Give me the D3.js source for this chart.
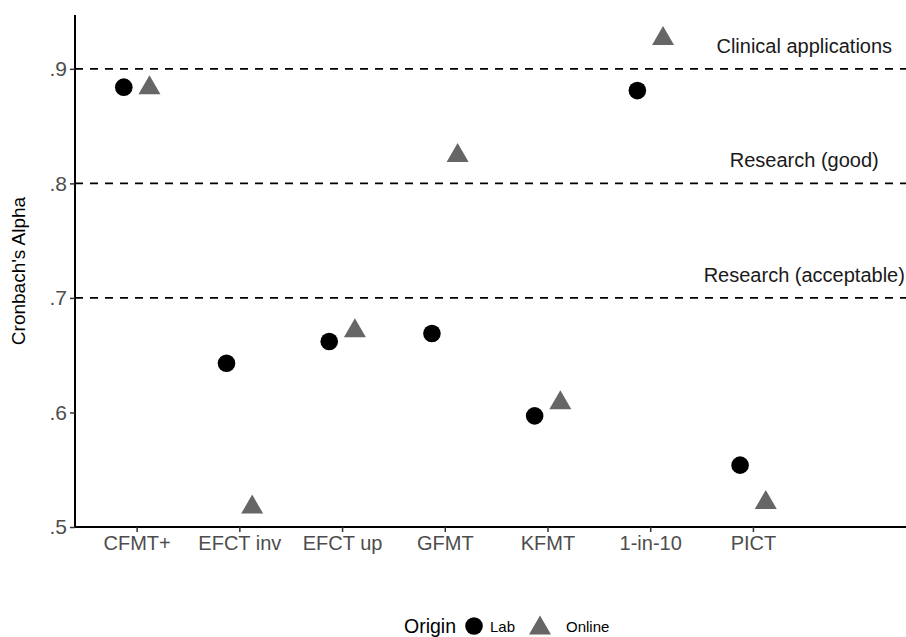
<!DOCTYPE html>
<html><head><meta charset="utf-8">
<script src="https://cdn.jsdelivr.net/npm/d3@7/dist/d3.min.js"></script>
<style>
body{margin:0;background:#fff;}
text{font-family:"Liberation Sans",Arial,sans-serif;}
</style></head>
<body><svg id="c" width="906" height="637"></svg>
<script>
const categories = ["CFMT+","EFCT inv","EFCT up","GFMT","KFMT","1-in-10","PICT"];
const labValues    = [0.884,0.643,0.662,0.669,0.597,0.881,0.554];
const onlineValues = [0.886,0.520,0.674,0.827,0.611,0.929,0.524];
const yTicks = [0.5,0.6,0.7,0.8,0.9];
const yTickLabels = [".5",".6",".7",".8",".9"];
const thresholds = [0.9,0.8,0.7];
const thresholdLabels = ["Clinical applications","Research (good)","Research (acceptable)"];
const seriesNames = ["Lab","Online"];

const svg = d3.select("#c");
const x = d3.scaleLinear().domain([0.4, 8.5]).range([75, 907]);
const y = d3.scaleLinear().domain([0.5, 0.947]).range([527, 15]);
const dodge = 0.125;

// threshold lines
svg.selectAll("line.thr").data(thresholds).join("line")
  .attr("x1", 75).attr("x2", 906)
  .attr("y1", d => y(d)).attr("y2", d => y(d))
  .attr("stroke", "#000").attr("stroke-width", 1.6)
  .attr("stroke-dasharray", "8,7");
svg.selectAll("text.thr").data(thresholds).join("text")
  .attr("x", x(7.5)).attr("y", d => y(d) - 16)
  .attr("text-anchor", "middle").attr("font-size", 20).attr("fill", "#1a1a1a")
  .text((d,i) => thresholdLabels[i]);

// axes
const yAxis = d3.axisLeft(y).tickValues(yTicks).tickFormat((d,i) => yTickLabels[i]).tickSize(5).tickPadding(3);
const gy = svg.append("g").attr("transform", "translate(75,0)").call(yAxis);
gy.select(".domain").attr("d", `M0,${y(0.947)}V${y(0.5)}`).attr("stroke", "#000").attr("stroke-width", 2);
gy.selectAll(".tick line").attr("stroke", "#333").attr("stroke-width", 1.5);
gy.selectAll(".tick text").attr("font-size", 21).attr("fill", "#4d4d4d").attr("font-family", "Liberation Sans, Arial, sans-serif");

const xAxis = d3.axisBottom(x).tickValues(categories.map((c,i) => i+1)).tickFormat((d) => categories[d-1]).tickSize(5).tickPadding(4);
const gx = svg.append("g").attr("transform", `translate(0,${y(0.5)})`).call(xAxis);
gx.select(".domain").attr("d", "M75,0H906").attr("stroke", "#000").attr("stroke-width", 2);
gx.selectAll(".tick line").attr("stroke", "#333").attr("stroke-width", 1.5);
gx.selectAll(".tick text").attr("font-size", 20).attr("fill", "#4d4d4d").attr("font-family", "Liberation Sans, Arial, sans-serif");

// axis title
svg.append("text").attr("transform", `translate(25,${(y(0.5)+y(0.947))/2}) rotate(-90)`)
  .attr("text-anchor", "middle").attr("font-size", 19).attr("fill", "#000")
  .text("Cronbach's Alpha");

// points
const triPath = (cx, cy, w, h) => `M${cx},${cy-h/2}L${cx+w/2},${cy+h/2}L${cx-w/2},${cy+h/2}Z`;
svg.selectAll("circle.lab").data(labValues).join("circle")
  .attr("cx", (d,i) => x(i+1-dodge)).attr("cy", d => y(d)).attr("r", 8.8).attr("fill", "#000");
svg.selectAll("path.online").data(onlineValues).join("path")
  .attr("d", (d,i) => triPath(x(i+1+dodge), y(d), 22, 19)).attr("fill", "#666");

// legend
const lg = svg.append("g");
lg.append("text").attr("x", 404).attr("y", 633).attr("font-size", 19.5).attr("fill", "#000").text("Origin");
lg.append("circle").attr("cx", 474).attr("cy", 626).attr("r", 8.8).attr("fill", "#000");
lg.append("text").attr("x", 490).attr("y", 632).attr("font-size", 15).attr("fill", "#000").text(seriesNames[0]);
lg.append("path").attr("d", triPath(540, 625, 22, 19)).attr("fill", "#666");
lg.append("text").attr("x", 566).attr("y", 632).attr("font-size", 15).attr("fill", "#000").text(seriesNames[1]);
</script></body></html>
